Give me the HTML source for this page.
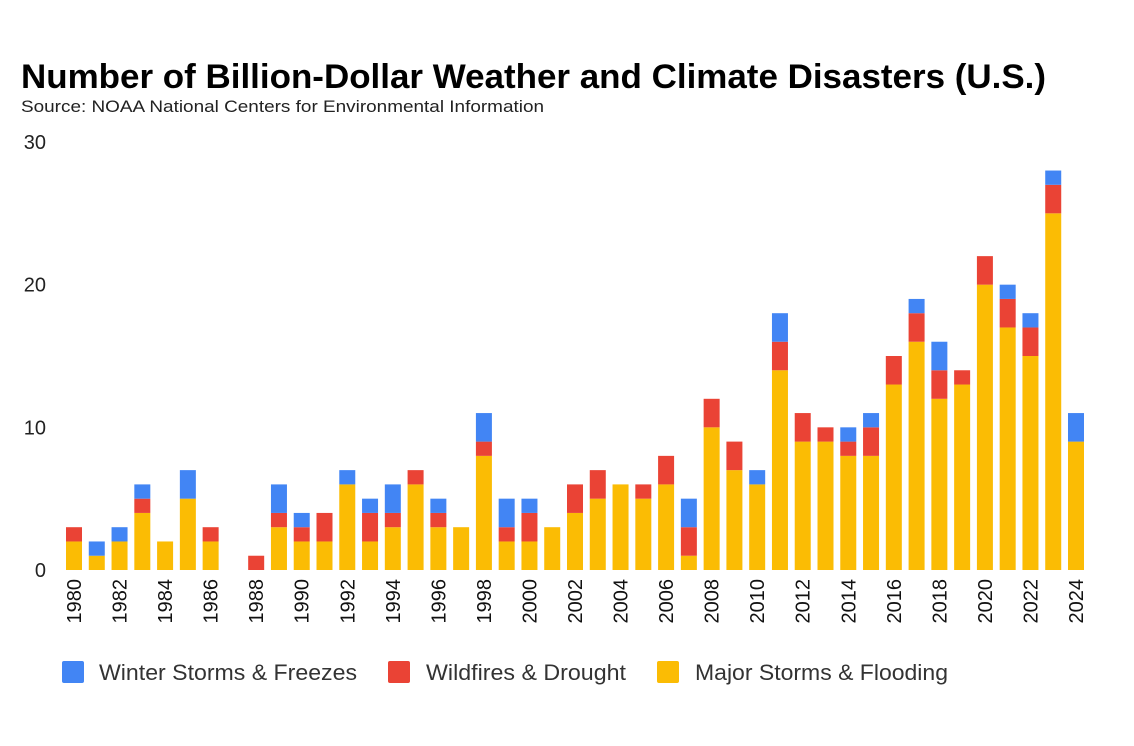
<!DOCTYPE html>
<html><head><meta charset="utf-8"><style>
body{margin:0;background:#fff;width:1134px;height:741px;overflow:hidden;font-family:"Liberation Sans",Arial,sans-serif}
</style></head><body>
<svg id="chart" width="1134" height="741" xmlns="http://www.w3.org/2000/svg" font-family="Liberation Sans, Arial, sans-serif">
<text x="21" y="88" font-size="34" font-weight="bold" fill="#000" textLength="1025" lengthAdjust="spacingAndGlyphs">Number of Billion-Dollar Weather and Climate Disasters (U.S.)</text>
<text x="21" y="112" font-size="17" fill="#222" textLength="523" lengthAdjust="spacingAndGlyphs">Source: NOAA National Centers for Environmental Information</text>
<g id="yaxis"></g><g id="bars"></g><g id="xaxis"></g>
<g>
<rect x="62" y="661" width="22" height="22" rx="2" fill="#4285F4"/>
<text x="99" y="680" font-size="22" fill="#333" textLength="258" lengthAdjust="spacingAndGlyphs">Winter Storms &amp; Freezes</text>
<rect x="388" y="661" width="22" height="22" rx="2" fill="#EA4335"/>
<text x="426" y="680" font-size="22" fill="#333" textLength="200" lengthAdjust="spacingAndGlyphs">Wildfires &amp; Drought</text>
<rect x="657" y="661" width="22" height="22" rx="2" fill="#FBBC04"/>
<text x="695" y="680" font-size="22" fill="#333" textLength="253" lengthAdjust="spacingAndGlyphs">Major Storms &amp; Flooding</text>
</g>
</svg>
<script>
const years=[1980,1981,1982,1983,1984,1985,1986,1987,1988,1989,1990,1991,1992,1993,1994,1995,1996,1997,1998,1999,2000,2001,2002,2003,2004,2005,2006,2007,2008,2009,2010,2011,2012,2013,2014,2015,2016,2017,2018,2019,2020,2021,2022,2023,2024];
const storms=[2,1,2,4,2,5,2,0,0,3,2,2,6,2,3,6,3,3,8,2,2,3,4,5,6,5,6,1,10,7,6,14,9,9,8,8,13,16,12,13,20,17,15,25,9];
const wildfires=[1,0,0,1,0,0,1,0,1,1,1,2,0,2,1,1,1,0,1,1,2,0,2,2,0,1,2,2,2,2,0,2,2,1,1,2,2,2,2,1,2,2,2,2,0];
const winter=[0,1,1,1,0,2,0,0,0,2,1,0,1,1,2,0,1,0,2,2,1,0,0,0,0,0,0,2,0,0,1,2,0,0,1,1,0,1,2,0,0,1,1,1,2];
const yTicks=[0,10,20,30];
const NS="http://www.w3.org/2000/svg";
const y0=570,yTop=142,yMax=30;
const x0=74,step=(1076-74)/44,bw=16;
const yS=v=>y0-(v/yMax)*(y0-yTop);
const xS=i=>x0+i*step;
function mk(tag,attrs,parent){const e=document.createElementNS(NS,tag);for(const k in attrs)e.setAttribute(k,attrs[k]);parent.appendChild(e);return e;}
const ya=document.getElementById('yaxis'),bars=document.getElementById('bars'),xa=document.getElementById('xaxis');
yTicks.forEach(t=>{const e=mk('text',{x:46,y:yS(t)+7,'font-size':20,'text-anchor':'end',fill:'#222'},ya);e.textContent=t;

});
const series=[[storms,'#FBBC04','storms'],[wildfires,'#EA4335','wildfires'],[winter,'#4285F4','winter']];
years.forEach((yr,i)=>{let base=0;series.forEach(([arr,col,nm])=>{const v=arr[i];if(v>0){const r=mk('rect',{x:xS(i)-bw/2,y:yS(base+v),width:bw,height:yS(base)-yS(base+v),fill:col},bars);

}base+=v;});
if(yr%2===0){const t=mk('text',{transform:`translate(${xS(i)+7},579) rotate(-90)`,'font-size':20,'text-anchor':'end',fill:'#111'},xa);t.textContent=yr;

}});
</script>
</body></html>
